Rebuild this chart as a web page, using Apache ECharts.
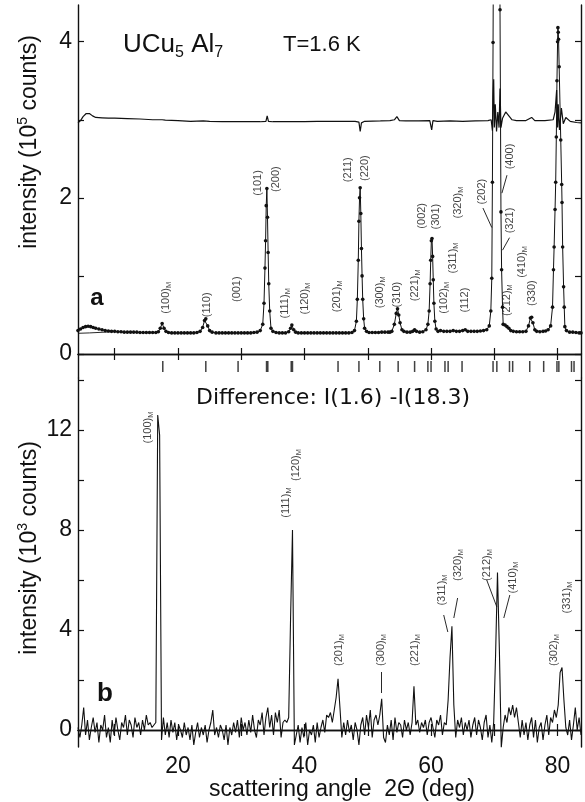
<!DOCTYPE html>
<html><head><meta charset="utf-8">
<script src="https://cdn.jsdelivr.net/npm/echarts@6/dist/echarts.min.js"></script>
<style>html,body{margin:0;padding:0;background:#fff}#c{width:585px;height:802px}</style>
</head><body><div id="c"></div>
<script>
// ---------- panel a : measured profile (10^5 counts) ----------
const aAngle = [4.2,4.6,5.0,5.4,5.8,6.2,6.6,7.0,7.5,8.0,8.5,9.0,9.5,10.0,10.5,11.0,11.5,12.0,12.5,13.0,13.5,14.0,14.5,15.0,15.5,16.0,16.5,16.9,17.2,17.5,17.8,18.1,18.5,19.0,19.5,20.0,20.5,21.0,21.5,22.0,22.5,23.0,23.5,23.9,24.2,24.4,24.7,25.0,25.4,26.0,26.5,27.0,27.5,28.0,28.5,29.0,29.5,30.0,30.5,31.0,31.5,32.0,32.5,33.0,33.4,33.6,33.75,33.85,33.95,34.05,34.15,34.25,34.35,34.5,34.7,35.0,35.5,36.0,36.5,37.0,37.5,37.8,38.0,38.3,38.6,39.0,39.5,40.0,40.5,41.0,41.5,42.0,42.5,43.0,43.5,44.0,44.5,45.0,45.5,46.0,46.5,47.0,47.5,47.9,48.2,48.35,48.5,48.6,48.7,48.8,48.9,49.0,49.1,49.2,49.35,49.5,49.8,50.2,50.7,51.2,51.7,52.2,52.7,53.2,53.5,53.8,54.2,54.5,54.7,54.9,55.1,55.4,55.7,56.2,56.7,57.1,57.4,57.7,58.2,58.7,59.2,59.5,59.7,59.85,59.95,60.05,60.15,60.25,60.35,60.45,60.6,60.8,61.1,61.5,62.0,62.5,63.0,63.5,64.0,64.5,65.0,65.4,65.8,66.3,66.8,67.3,67.8,68.3,68.8,69.2,69.45,69.6,69.7,69.8,69.9,70.0,70.15,70.35,70.55,70.7,70.85,70.9,71.05,71.15,71.3,71.4,71.7,72.0,72.3,72.6,73.0,73.5,74.0,74.5,75.0,75.4,75.7,75.9,76.1,76.4,76.7,77.2,77.7,78.1,78.5,78.9,79.2,79.35,79.45,79.6,79.7,79.8,79.9,80.0,80.05,80.1,80.15,80.25,80.5,80.65,80.7,80.8,80.95,81.05,81.15,81.4,81.9,82.4,82.9,83.4,83.7];
const aCounts = [0.30,0.32,0.34,0.35,0.355,0.35,0.34,0.33,0.32,0.31,0.30,0.295,0.29,0.29,0.285,0.285,0.28,0.28,0.28,0.28,0.28,0.275,0.275,0.275,0.275,0.275,0.275,0.285,0.33,0.39,0.33,0.29,0.275,0.27,0.27,0.27,0.27,0.27,0.27,0.27,0.27,0.275,0.29,0.34,0.43,0.45,0.36,0.30,0.28,0.27,0.27,0.27,0.27,0.27,0.27,0.27,0.27,0.27,0.27,0.27,0.27,0.275,0.28,0.30,0.38,0.65,1.1,1.45,1.9,2.12,1.75,1.3,0.9,0.55,0.33,0.29,0.275,0.27,0.27,0.27,0.285,0.33,0.37,0.31,0.28,0.27,0.27,0.27,0.27,0.27,0.27,0.27,0.27,0.27,0.27,0.27,0.27,0.27,0.27,0.27,0.27,0.27,0.275,0.30,0.42,0.7,1.2,1.7,2.0,2.13,1.8,1.35,1.0,0.7,0.45,0.33,0.29,0.275,0.275,0.275,0.275,0.28,0.28,0.28,0.28,0.29,0.38,0.52,0.58,0.50,0.40,0.31,0.29,0.28,0.28,0.29,0.31,0.29,0.28,0.285,0.31,0.38,0.55,0.9,1.2,1.45,1.48,1.25,0.95,0.65,0.42,0.32,0.29,0.30,0.29,0.29,0.29,0.30,0.29,0.29,0.30,0.31,0.29,0.29,0.29,0.29,0.295,0.30,0.31,0.36,0.55,0.97,2.2,3.99,6.0,7.0,6.2,5.0,6.0,6.8,5.5,4.41,1.82,1.08,0.6,0.38,0.37,0.35,0.33,0.30,0.29,0.285,0.285,0.285,0.29,0.36,0.46,0.47,0.40,0.31,0.29,0.285,0.29,0.295,0.31,0.36,0.6,1.08,1.37,1.85,2.2,2.78,3.5,4.0,4.18,4.12,4.03,3.68,2.74,2.17,1.94,1.37,0.86,0.6,0.35,0.30,0.28,0.28,0.275,0.27,0.27];
// fitted background at low angle
const fitAngle = [4.2,6.0,8.0,10.0];
const fitCounts = [0.265,0.27,0.278,0.285];
// observed - calculated, shifted up (10^5 counts)
const dAngle = [4.2,4.6,5.0,5.5,6.0,6.5,7.0,8.0,9.0,10.0,12.0,14.0,16.0,17.5,18.0,20.0,22.0,24.0,24.3,25.0,27.0,29.0,31.0,33.0,33.9,34.1,34.3,35.0,38.0,40.0,42.0,44.0,46.0,48.0,48.6,48.8,49.0,49.5,52.0,53.5,54.2,54.6,55.0,56.0,58.0,59.8,60.1,60.3,61.0,63.0,65.0,67.0,69.0,69.5,69.7,69.8,69.9,70.0,70.15,70.35,70.55,70.75,70.9,71.05,71.3,71.8,72.3,72.8,73.5,75.0,75.9,76.4,78.0,79.3,79.6,79.85,80.0,80.1,80.3,80.6,80.9,81.3,82.0,83.0,83.7];
const dCounts = [2.96,2.99,3.04,3.08,3.08,3.05,3.03,3.025,3.02,3.02,3.015,3.01,3.0,3.0,2.995,2.99,2.98,2.985,2.99,2.98,2.975,2.975,2.975,2.975,2.98,3.05,2.98,2.975,2.975,2.975,2.98,2.98,2.98,2.98,2.97,2.85,2.96,2.98,2.985,2.99,3.0,3.04,2.99,2.985,2.985,2.99,2.87,2.99,2.98,2.985,2.98,2.985,2.99,3.0,2.86,3.3,3.52,2.9,3.2,2.85,3.1,2.9,3.4,2.9,3.02,3.1,3.05,3.0,2.99,2.99,3.03,2.99,2.99,3.0,3.1,3.38,2.9,3.2,2.87,3.15,2.95,3.03,2.98,2.965,2.96];
// reflection positions (2θ, deg)
const braggAngles = [17.6,24.4,29.5,34.0,34.2,37.9,38.1,45.3,48.6,51.9,54.8,57.4,59.5,60.0,62.2,62.7,64.9,69.8,70.4,72.4,72.9,75.6,77.8,79.9,80.2,82.2,82.6];
// peak labels, panel a
const aLabelText = ['(100)_M','(110)','(001)','(101)','(200)','(111)_M','(120)_M','(201)_M','(211)','(220)','(300)_M','(310)','(221)_M','(002)','(301)','(102)_M','(311)_M','(320)_M','(112)','(202)','(400)','(321)','(212)_M','(410)_M','(330)'];
const aLabelAngle = [18.1,24.6,29.3,32.6,35.5,36.9,40.1,45.1,46.9,49.5,51.9,54.6,57.4,58.5,60.8,62.0,63.4,64.2,65.3,68.0,72.4,72.4,72.0,74.3,75.9];
const aLabelValue = [0.72,0.63,0.83,2.19,2.24,0.65,0.71,0.74,2.36,2.38,0.79,0.76,0.88,1.77,1.76,0.72,1.23,1.94,0.69,2.08,2.53,1.71,0.69,1.18,0.78];
const aLeaders = [[[68.2,1.87],[69.6,1.62]],[[72.4,1.49],[71.3,1.33]],[[72.0,2.29],[71.2,2.06]]];

// ---------- panel b : difference I(1.6)-I(18.3) (10^3 counts) ----------
const bStart = 4.2, bStep = 0.3;
const bCounts = [
0.1,-0.3,0.2,0.9,-0.2,0.4,-0.4,0.1,0.5,-0.1,
0.3,-0.5,0.2,0.0,0.6,-0.3,0.1,-0.5,0.4,-0.2,
0.5,0.0,-0.4,0.3,0.1,0.6,-0.2,0.4,0.2,-0.3,
0.5,0.1,0.3,-0.2,0.4,0.0,0.6,0.2,0.3,0.1,
0.2,0.3,12.6,11.8,-0.4,0.5,-0.2,0.3,-0.3,0.4,
-0.1,0.3,-0.4,0.2,0.0,-0.3,0.3,-0.2,0.1,-0.4,
0.2,-0.6,-0.1,0.3,-0.3,0.1,-0.2,0.2,-0.5,0.0,
0.3,0.8,-0.2,0.1,-0.3,0.2,0.0,-0.4,0.2,-0.6,
0.1,-0.2,0.3,-0.1,0.4,-0.3,0.5,0.0,0.3,-0.2,
0.4,-0.1,0.6,0.0,-0.3,0.4,0.2,0.7,-0.2,0.5,
0.9,0.1,0.6,-0.2,0.7,0.3,0.8,-0.3,0.3,0.4,
0.3,0.5,4.5,8.0,-0.6,-0.2,0.2,-0.5,0.1,-0.3,
0.3,-0.6,0.0,-0.2,0.2,-0.5,0.3,-0.3,0.1,0.4,
-0.1,0.6,0.5,0.7,0.3,0.8,1.3,2.05,0.9,-0.3,
0.3,-0.2,0.4,-0.1,0.2,-0.4,0.3,0.0,-0.6,0.2,
0.5,-0.2,0.6,0.1,0.8,-0.3,0.4,0.6,0.2,0.6,
1.25,-0.3,-0.5,0.2,-0.2,0.4,-0.4,0.5,-0.1,0.3,
0.2,-0.3,0.4,0.0,0.3,-0.2,0.3,1.75,0.2,0.4,
-0.1,0.3,0.1,0.4,-0.2,0.3,0.5,0.1,-0.3,0.4,
0.2,0.6,-0.2,0.3,0.2,1.2,2.9,4.15,1.0,-0.3,
0.4,0.1,0.5,-0.2,0.3,0.0,0.4,-0.3,0.2,0.5,
-0.2,0.4,0.1,-0.4,0.3,0.6,-0.3,0.2,-0.5,0.3,
3.0,6.3,3.2,-0.7,0.1,0.6,0.3,0.9,0.6,1.0,
0.5,0.9,0.3,-0.3,0.4,-0.2,0.3,-0.4,0.2,0.5,
-0.3,0.4,-0.5,0.1,0.3,-0.4,0.2,0.6,-0.2,0.5,
0.3,0.8,0.5,1.0,2.3,2.5,1.2,0.1,-0.2,0.4,
-0.4,0.2,0.9,0.0,0.5,-0.2];
const bLabelText = ['(100)_M','(111)_M','(120)_M','(201)_M','(300)_M','(221)_M','(311)_M','(320)_M','(212)_M','(410)_M','(302)_M','(331)_M'];
const bLabelAngle = [15.3,37.1,38.6,45.4,52.1,57.4,61.7,64.2,68.8,72.9,79.4,81.5];
const bLabelValue = [12.1,9.1,10.6,3.2,3.2,3.2,5.6,6.6,6.6,6.1,3.2,5.3];
const bLeaders = [[[52.07,2.32],[52.07,1.48]],[[62.0,4.6],[62.65,3.92]],[[64.2,5.28],[63.6,4.48]],[[68.8,6.0],[70.4,4.92]],[[72.45,5.4],[71.5,4.48]]];

// ---------- axes ----------
const xMin = 4.2, xMax = 83.7;
const xTicks = [10,20,30,40,50,60,70,80];
const xTickLabels = [20,40,60,80];
const aYMin = 0, aYMax = 4.47, aYTicks = [0,1,2,3,4], aYLabels = [0,2,4];
const bYMin = -0.68, bYMax = 14.08, bYTicks = [0,2,4,6,8,10,12,14], bYLabels = [0,4,8,12];

const FONT = 'Liberation Sans';
const ink = '#111';
const toLabel = s => s.replace('_M', '{m|M}');
const pairs = (xs, ys) => xs.map((x, i) => [x, ys[i]]);

const chart = echarts.init(document.getElementById('c'), null, {renderer: 'canvas'});
const axLine = {show: true, lineStyle: {color: ink, width: 1.4}};
function xAx(grid, pos, ticks, labels) {
  return {type: 'value', gridIndex: grid, position: pos, min: xMin, max: xMax,
    axisLine: axLine, splitLine: {show: false},
    axisTick: {show: !!ticks, inside: true, length: 6, lineStyle: {color: ink, width: 1.2}, customValues: ticks || []},
    axisLabel: labels ? {show: true, customValues: labels, color: ink, fontFamily: FONT, fontSize: 23, margin: 8} : {show: false}};
}
function yAx(grid, pos, min, max, ticks, labels) {
  return {type: 'value', gridIndex: grid, position: pos, min: min, max: max,
    axisLine: axLine, splitLine: {show: false},
    axisTick: {show: !!ticks, inside: true, length: 6, lineStyle: {color: ink, width: 1.2}, customValues: ticks || []},
    axisLabel: labels ? {show: true, customValues: labels, color: ink, fontFamily: FONT, fontSize: 23, margin: 6} : {show: false}};
}
const labelRich = {m: {fontSize: 7.5, fontFamily: FONT, color: ink, verticalAlign: 'bottom', lineHeight: 14}};
function labelSeries(xi, yi, texts, angles, values) {
  return {type: 'scatter', xAxisIndex: xi, yAxisIndex: yi, symbolSize: 0, silent: true, clip: false,
    data: texts.map((t, i) => ({value: [angles[i], values[i]], name: toLabel(t)})),
    label: {show: true, position: 'inside', rotate: 90, formatter: p => p.name,
      fontFamily: FONT, fontSize: 11, color: ink, lineHeight: 14, rich: labelRich}};
}
function leaderSeries(xi, yi, segs) {
  return {type: 'lines', coordinateSystem: 'cartesian2d', xAxisIndex: xi, yAxisIndex: yi, silent: true,
    lineStyle: {color: ink, width: 0.9, opacity: 1}, data: segs.map(s => ({coords: s}))};
}

chart.setOption({
  animation: false,
  backgroundColor: '#fff',
  grid: [
    {left: 78, right: 4, top: 5, height: 349},
    {left: 78, right: 4, top: 354, height: 24},
    {left: 78, right: 4, top: 378, height: 369}
  ],
  xAxis: [
    xAx(0, 'bottom', xTicks, null),
    xAx(0, 'top', xTicks, null),
    Object.assign(xAx(1, 'bottom', null, null), {axisLine: {show: false}}),
    xAx(2, 'bottom', xTicks, xTickLabels),
    xAx(2, 'top', xTicks, null)
  ],
  yAxis: [
    yAx(0, 'left', aYMin, aYMax, aYTicks, aYLabels),
    yAx(0, 'right', aYMin, aYMax, aYTicks, null),
    yAx(1, 'left', 0, 1, null, null),
    yAx(1, 'right', 0, 1, null, null),
    yAx(2, 'left', bYMin, bYMax, bYTicks, bYLabels),
    yAx(2, 'right', bYMin, bYMax, bYTicks, null)
  ],
  series: [
    {type: 'line', xAxisIndex: 0, yAxisIndex: 0, data: pairs(aAngle, aCounts), symbol: 'circle', symbolSize: 3.6,
      showAllSymbol: true, lineStyle: {color: ink, width: 1}, itemStyle: {color: ink}, clip: true, silent: true},
    {type: 'line', xAxisIndex: 0, yAxisIndex: 0, data: pairs(fitAngle, fitCounts), symbol: 'none',
      lineStyle: {color: ink, width: 0.9}, clip: true, silent: true},
    {type: 'line', xAxisIndex: 0, yAxisIndex: 0, data: pairs(dAngle, dCounts), symbol: 'none',
      lineStyle: {color: ink, width: 1.2}, clip: true, silent: true},
    labelSeries(0, 0, aLabelText, aLabelAngle, aLabelValue),
    leaderSeries(0, 0, aLeaders),
    {type: 'scatter', xAxisIndex: 2, yAxisIndex: 2, symbol: 'rect', symbolSize: [1.5, 11], silent: true,
      itemStyle: {color: ink}, data: braggAngles.map(a => [a, 0.48])},
    {type: 'line', xAxisIndex: 3, yAxisIndex: 4, symbol: 'none', clip: true, silent: true,
      lineStyle: {color: ink, width: 1.1},
      data: bCounts.map((v, i) => [+(bStart + i * bStep).toFixed(2), v])},
    labelSeries(3, 4, bLabelText, bLabelAngle, bLabelValue),
    leaderSeries(3, 4, bLeaders)
  ],
  graphic: [
    {type: 'text', x: 123, y: 45, style: {text: 'UCu{s|5} Al{s|7}', font: '26px "Liberation Sans"', fill: ink,
      textVerticalAlign: 'middle', rich: {s: {fontSize: 16, fontFamily: FONT, verticalAlign: 'bottom', lineHeight: 32}}}},
    {type: 'text', x: 283, y: 45, style: {text: 'T=1.6 K', font: '22px "Liberation Sans"', fill: ink, textVerticalAlign: 'middle'}},
    {type: 'text', x: 97, y: 298, style: {text: 'a', font: 'bold 24px "Liberation Sans"', fill: ink, textAlign: 'center', textVerticalAlign: 'middle'}},
    {type: 'text', x: 105, y: 694, style: {text: 'b', font: 'bold 26px "Liberation Sans"', fill: ink, textAlign: 'center', textVerticalAlign: 'middle'}},
    {type: 'text', x: 333, y: 398, style: {text: 'Difference: I(1.6) -I(18.3)', font: '22px "DejaVu Sans"', fill: ink, textAlign: 'center', textVerticalAlign: 'middle'}},
    {type: 'text', x: 30, y: 142, rotation: Math.PI / 2, style: {text: 'intensity (10{s|5} counts)', font: '23px "Liberation Sans"', fill: ink,
      textAlign: 'center', textVerticalAlign: 'middle', rich: {s: {fontSize: 14, fontFamily: FONT, verticalAlign: 'top', lineHeight: 28}}}},
    {type: 'text', x: 30, y: 548, rotation: Math.PI / 2, style: {text: 'intensity (10{s|3} counts)', font: '23px "Liberation Sans"', fill: ink,
      textAlign: 'center', textVerticalAlign: 'middle', rich: {s: {fontSize: 14, fontFamily: FONT, verticalAlign: 'top', lineHeight: 28}}}},
    {type: 'text', x: 342, y: 790, style: {text: 'scattering angle  2\u0398 (deg)', font: '23px "Liberation Sans"', fill: ink, textAlign: 'center', textVerticalAlign: 'middle'}}
  ]
});
</script></body></html>
